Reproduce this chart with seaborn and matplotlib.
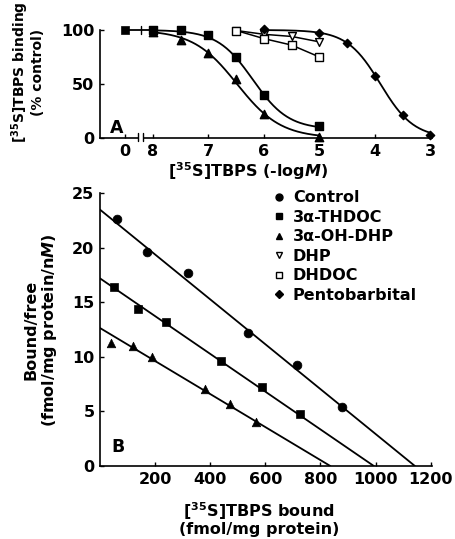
import matplotlib
matplotlib.use("Agg")
import matplotlib.pyplot as plt
from matplotlib.lines import Line2D
import numpy as np
import pandas as pd
import seaborn as sns

# ---- Panel A: inhibition of [35S]TBPS binding (x = -log M) ----
CONTROL_POS = 8.5  # where the "0" (no drug) point sits on the broken axis
pos_thdoc = [8, 7.5, 7, 6.5, 6, 5]
val_thdoc = [100, 100, 95, 75, 40, 11]
pos_ohdhp = [8, 7.5, 7, 6.5, 6, 5]
val_ohdhp = [98, 91, 79, 55, 22.5, 1]
pos_dhp = [6.5, 6, 5.5, 5]
val_dhp = [99.5, 96, 94, 89]
pos_dhdoc = [6.5, 6, 5.5, 5]
val_dhdoc = [99.5, 92, 86, 75]
pos_pento = [6, 5, 4.5, 4, 3.5, 3]
val_pento = [101, 97, 88, 57, 21, 3]

# fitted logistic curves: (pIC50, slope, bottom, range)
fit_thdoc = (6.2, 1.36, 8, (8, 5))
fit_ohdhp = (6.485, 1.1, 0, (8, 5))
fit_pento = (3.9, 1.44, 0, (6, 3))

# ---- Panel B: Scatchard plots ----
bound_ctrl = [61, 170, 319, 536, 715, 879]
bf_ctrl = [22.6, 19.65, 17.65, 12.2, 9.25, 5.45]
bound_thdoc = [49, 139, 239, 440, 588, 727]
bf_thdoc = [16.45, 14.4, 13.2, 9.65, 7.2, 4.75]
bound_ohdhp = [39, 118, 188, 382, 470, 567]
bf_ohdhp = [11.3, 11.0, 10.0, 7.1, 5.7, 4.05]
# regression lines: (y intercept, Bmax)
line_ctrl = (23.5, 1143)
line_thdoc = (17.2, 994)
line_ohdhp = (12.65, 836)

legend_names = ["Control", "3α-THDOC", "3α-OH-DHP", "DHP", "DHDOC", "Pentobarbital"]

sns.set_style("ticks")
plt.rcParams["font.family"] = ["DejaVu Sans"]
plt.rcParams["font.weight"] = "bold"
plt.rcParams["mathtext.fontset"] = "custom"
plt.rcParams["mathtext.rm"] = "DejaVu Sans:bold"
plt.rcParams["mathtext.bf"] = "DejaVu Sans:bold"
plt.rcParams["mathtext.it"] = "DejaVu Sans:italic:bold"
for key in ("text.color", "axes.labelcolor", "xtick.color", "ytick.color", "axes.edgecolor"):
    plt.rcParams[key] = "black"

K = "black"
LW = 1.3
FS = 11.5

fig = plt.figure(figsize=(4.55, 5.39), dpi=100)
axA = fig.add_axes([0.2198, 0.744, 0.7297, 0.2104])
axB = fig.add_axes([0.2198, 0.1354, 0.7297, 0.506])


def hill(fit):
    pic50, n, bottom, (x0, x1) = fit
    x = np.linspace(x0, x1, 200)
    y = bottom + (100 - bottom) / (1 + 10 ** (n * (pic50 - x)))
    return pd.DataFrame({"x": x, "y": y})


# --- panel A curves
for fit in (fit_thdoc, fit_ohdhp, fit_pento):
    sns.lineplot(data=hill(fit), x="x", y="y", color=K, lw=LW, ax=axA, sort=False)
for xs, ys in ((pos_dhp, val_dhp), (pos_dhdoc, val_dhdoc)):
    sns.lineplot(x=xs, y=ys, color=K, lw=1.1, ax=axA, sort=False)
# control line up to the first drug concentration
sns.lineplot(x=[CONTROL_POS, pos_thdoc[0]], y=[100, val_thdoc[0]], color=K, lw=LW, ax=axA, sort=False)

styleA = [
    (pos_thdoc, val_thdoc, "s", K, 36),
    (pos_ohdhp, val_ohdhp, "^", K, 36),
    (pos_dhp, val_dhp, "v", "white", 32),
    (pos_dhdoc, val_dhdoc, "s", "white", 30),
    (pos_pento, val_pento, "D", K, 18),
]
for xs, ys, m, fc, s in styleA:
    sns.scatterplot(x=xs, y=ys, marker=m, s=s, color=fc, edgecolor=K, linewidth=1.0,
                    ax=axA, zorder=5, clip_on=False)
sns.scatterplot(x=[CONTROL_POS], y=[100], marker="s", s=36, color=K, edgecolor=K,
                ax=axA, zorder=5, clip_on=False)

axA.set_xlim(8.955, 2.97)
axA.set_ylim(0, 105)
axA.set_xticks([CONTROL_POS, 8, 7, 6, 5, 4, 3])
axA.set_xticklabels(["0", "8", "7", "6", "5", "4", "3"])
axA.set_yticks([0, 50, 100])
axA.spines["left"].set_bounds(0, 100)
# axis break marks
trA = axA.get_xaxis_transform()
axA.fill_between([8.26, 8.19], -0.02, 0.02, color="white", transform=trA, zorder=3, clip_on=False)
for bx in (8.27, 8.18):
    axA.plot([bx, bx], [-0.03, 0.04], color=K, lw=1.0, transform=trA, clip_on=False, zorder=4)
axA.plot([8.22, 8.22], [96.5, 103.5], color=K, lw=1.0, clip_on=False)
axA.text(0.03, 0.04, "A", transform=axA.transAxes, fontsize=12.5, fontweight="bold")
axA.set_xlabel(r"[$^{35}$S]TBPS (-log$\mathit{M}$)", fontsize=FS, fontweight="bold")
axA.set_ylabel("[$^{35}$S]TBPS binding\n(% control)", fontsize=10, fontweight="bold",
               linespacing=1.0)
axA.xaxis.set_label_coords(0.446, -0.2)
axA.yaxis.set_label_coords(-0.165, 0.58)

# --- panel B
for (b0, bmax) in (line_ctrl, line_thdoc, line_ohdhp):
    sns.lineplot(x=[0, bmax], y=[b0, 0], color=K, lw=LW, ax=axB, sort=False)
for xs, ys, m, s in ((bound_ctrl, bf_ctrl, "o", 40),
                     (bound_thdoc, bf_thdoc, "s", 36),
                     (bound_ohdhp, bf_ohdhp, "^", 38)):
    sns.scatterplot(x=xs, y=ys, marker=m, s=s, color=K, edgecolor=K, ax=axB, zorder=5)

axB.set_xlim(0, 1205)
axB.set_ylim(0, 25)
axB.set_xticks([200, 400, 600, 800, 1000, 1200])
axB.set_yticks([0, 5, 10, 15, 20, 25])
axB.text(0.035, 0.05, "B", transform=axB.transAxes, fontsize=12.5, fontweight="bold")
axB.set_xlabel("[$^{35}$S]TBPS bound\n(fmol/mg protein)", fontsize=FS, fontweight="bold",
               linespacing=1.05)
axB.set_ylabel("Bound/free\n(fmol/mg protein/n$\\mathit{M}$)", fontsize=FS,
               fontweight="bold", linespacing=1.05)
axB.xaxis.set_label_coords(0.479, -0.125)
axB.yaxis.set_label_coords(-0.125, 0.5)

handles = [
    Line2D([], [], ls="", marker="o", ms=5, color=K),
    Line2D([], [], ls="", marker="s", ms=5, color=K),
    Line2D([], [], ls="", marker="^", ms=5, color=K),
    Line2D([], [], ls="", marker="v", ms=5, mfc="white", mec=K),
    Line2D([], [], ls="", marker="s", ms=5, mfc="white", mec=K),
    Line2D([], [], ls="", marker="D", ms=4, color=K),
]
axB.legend(handles, legend_names, loc="upper left", bbox_to_anchor=(0.497, 1.04),
           frameon=False, handlelength=0.8, handletextpad=0.45, borderpad=0,
           labelspacing=0.28, prop={"size": 11.5, "weight": "bold"})

for ax in (axA, axB):
    sns.despine(ax=ax)
    ax.tick_params(direction="in", length=3, width=1.0, labelsize=FS, pad=4)
    for sp in ("left", "bottom"):
        ax.spines[sp].set_linewidth(1.2)
    for lab in ax.get_xticklabels() + ax.get_yticklabels():
        lab.set_fontweight("bold")

fig.savefig("out.png", dpi=100)
